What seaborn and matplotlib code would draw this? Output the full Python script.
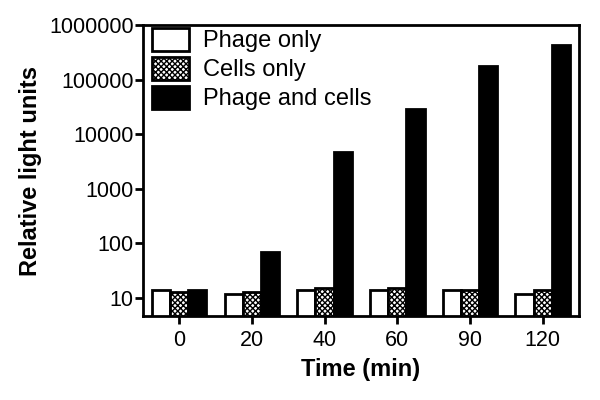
import pandas as pd
import matplotlib
matplotlib.use("Agg")
import matplotlib.pyplot as plt
import matplotlib.ticker as mticker
import seaborn as sns

# Values
times = ["0", "20", "40", "60", "90", "120"]
conditions = ["Phage only", "Cells only", "Phage and cells"]
phage_only = [14, 12, 14, 14, 14, 12]
cells_only = [13, 13, 15, 15, 14, 14]
phage_and_cells = [14, 70, 4700, 29000, 180000, 430000]
ytick_vals = [10, 100, 1000, 10000, 100000, 1000000]

rows = []
for cond, vals in zip(conditions, [phage_only, cells_only, phage_and_cells]):
    for t, v in zip(times, vals):
        rows.append({"Time": t, "Condition": cond, "RLU": v})
df = pd.DataFrame(rows)

sns.set_style("ticks")
plt.rcParams['font.family'] = ['Liberation Sans', 'DejaVu Sans']
plt.rcParams.update({"text.color": "black", "axes.labelcolor": "black",
                     "xtick.color": "black", "ytick.color": "black",
                     "axes.edgecolor": "black"})

fig = plt.figure(figsize=(6, 4), dpi=100)
ax = fig.add_axes([0.238, 0.21, 0.727, 0.7275])

sns.barplot(data=df, x="Time", y="RLU", hue="Condition", order=times,
            hue_order=conditions, palette=["white", "white", "black"],
            edgecolor="black", linewidth=2, width=0.75, ax=ax,
            legend=False, errorbar=None)

# checkered fill for the "Cells only" bars
for bar in ax.containers[1]:
    bar.set_hatch("xxxxxx")

ax.set_yscale("log")
ax.set_ylim(4.7, 1000000)
ax.set_xlim(-0.5, 5.5)
ax.yaxis.set_major_locator(mticker.FixedLocator(ytick_vals))
ax.yaxis.set_major_formatter(mticker.FuncFormatter(lambda v, p: f"{int(round(v))}"))
ax.yaxis.set_minor_locator(mticker.NullLocator())

for s in ax.spines.values():
    s.set_linewidth(2)
ax.tick_params(axis="both", width=2, length=6, labelsize=15.5, pad=0.5)
ax.tick_params(axis="x", pad=4)

ax.set_xlabel("Time (min)", fontsize=17, fontweight="bold", labelpad=5)
ax.set_ylabel("Relative light units", fontsize=17, fontweight="bold", labelpad=5)

ax.legend(ax.containers, conditions, loc="upper left", frameon=False,
          bbox_to_anchor=(0.02, 0.99), borderaxespad=0, borderpad=0,
          fontsize=17, handlelength=1.6, handleheight=1.1, handletextpad=0.6,
          labelspacing=0.2)

plt.savefig("out.png", dpi=100)
